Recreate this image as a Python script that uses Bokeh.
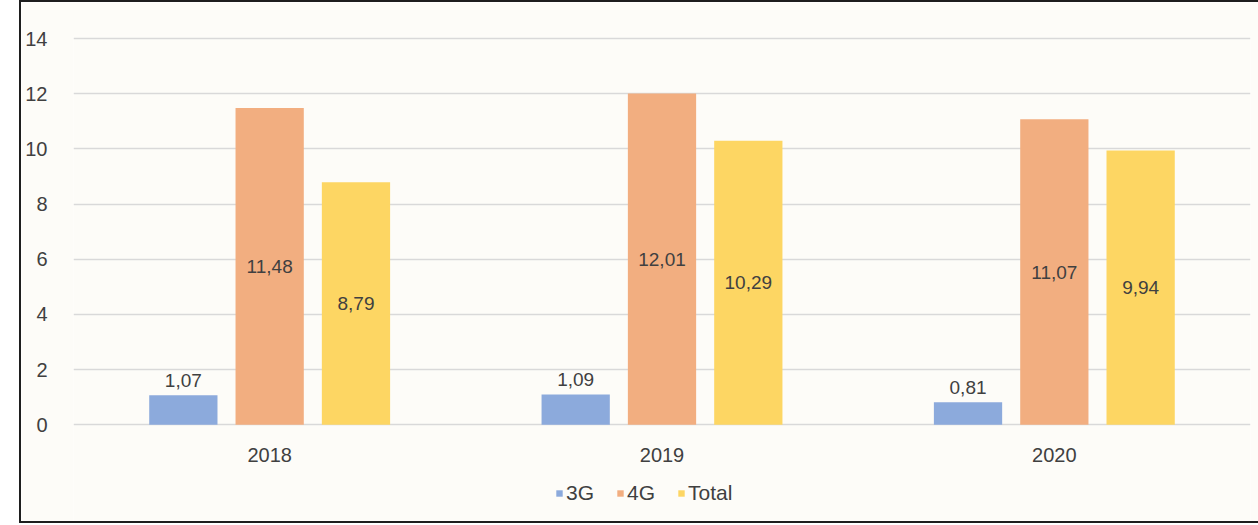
from bokeh.plotting import figure
from bokeh.models import ColumnDataSource, FactorRange, Range1d, FixedTicker, Legend, LegendItem
from bokeh.transform import dodge
from bokeh.core.properties import value
from bokeh.embed import file_html
from bokeh.resources import INLINE

years = ["2018", "2019", "2020"]
g3 = [1.07, 1.09, 0.81]
g4 = [11.48, 12.01, 11.07]
total = [8.79, 10.29, 9.94]
series_names = ["3G", "4G", "Total"]
y_ticks = [0, 2, 4, 6, 8, 10, 12, 14]

def fmt(v):
    return f"{v:.2f}".replace(".", ",")

src = ColumnDataSource(dict(
    year=years,
    zero=[0] * len(years),
    g3=g3, g4=g4, total=total,
    g4_mid=[v / 2 for v in g4],
    total_mid=[v / 2 for v in total],
    g3_lbl=[fmt(v) for v in g3],
    g4_lbl=[fmt(v) for v in g4],
    total_lbl=[fmt(v) for v in total],
))

FONT = "Liberation Sans"
TXT = "#404040"
BG = "#fdfcf8"
colors = ["#8caadc", "#f2ae80", "#fdd663"]

p = figure(
    width=1239, height=523,
    x_range=FactorRange(*years, range_padding=0),
    y_range=Range1d(-3.655, 14.11),
    output_backend="svg", toolbar_location=None, tools="",
    min_border_left=52, min_border_right=10, min_border_top=33, min_border_bottom=0,
    background_fill_color=BG, border_fill_color=BG,
)
p.margin = (0, 0, 0, 19)
p.styles = {"vertical-align": "top",
            "border-top": "2px solid #1e1e1e", "border-left": "2px solid #1e1e1e",
            "border-bottom": "2px solid #1e1e1e"}
p.outline_line_color = None

off = 0.22
w = 0.174
r1 = p.vbar(x=dodge("year", -off, range=p.x_range), top="g3", bottom=0, width=w, source=src,
            fill_color=colors[0], line_color=None)
r2 = p.vbar(x=dodge("year", 0, range=p.x_range), top="g4", bottom=0, width=w, source=src,
            fill_color=colors[1], line_color=None)
r3 = p.vbar(x=dodge("year", off, range=p.x_range), top="total", bottom=0, width=w, source=src,
            fill_color=colors[2], line_color=None)

lbl_kw = dict(source=src, text_font=value(FONT), text_font_size="19px", text_color=TXT, text_align="center")
p.text(x=dodge("year", -off, range=p.x_range), y="g3", text="g3_lbl", text_baseline="alphabetic", y_offset=-15, **lbl_kw)
p.text(x=dodge("year", 0, range=p.x_range), y="g4_mid", text="g4_lbl", text_baseline="middle", **lbl_kw)
p.text(x=dodge("year", off, range=p.x_range), y="total_mid", text="total_lbl", text_baseline="middle", **lbl_kw)
# category labels under the zero line
p.text(x="year", y="zero", text="year", text_baseline="middle", y_offset=30,
       source=src, text_font=value(FONT), text_font_size="20px", text_color=TXT, text_align="center")

p.xaxis.visible = False
p.xgrid.grid_line_color = None
p.ygrid.grid_line_color = "#d9d9d9"
p.ygrid.grid_line_width = 1.5
p.yaxis.ticker = FixedTicker(ticks=y_ticks)

ax = p.yaxis[0]
ax.axis_line_color = None
ax.major_tick_line_color = None
ax.minor_tick_line_color = None
ax.major_label_text_font = FONT
ax.major_label_text_font_size = "20px"
ax.major_label_text_color = TXT
ax.major_label_standoff = 20

legend = Legend(items=[LegendItem(label=n, renderers=[r]) for n, r in zip(series_names, [r1, r2, r3])],
                orientation="horizontal", location=(482, 20),
                glyph_width=8, glyph_height=8, label_standoff=3, spacing=22,
                label_text_font=FONT, label_text_font_size="21px", label_text_color=TXT,
                background_fill_alpha=0, border_line_color=None, margin=0, padding=0)
p.add_layout(legend, "center")

open("out.html", "w").write(file_html(p, INLINE))
